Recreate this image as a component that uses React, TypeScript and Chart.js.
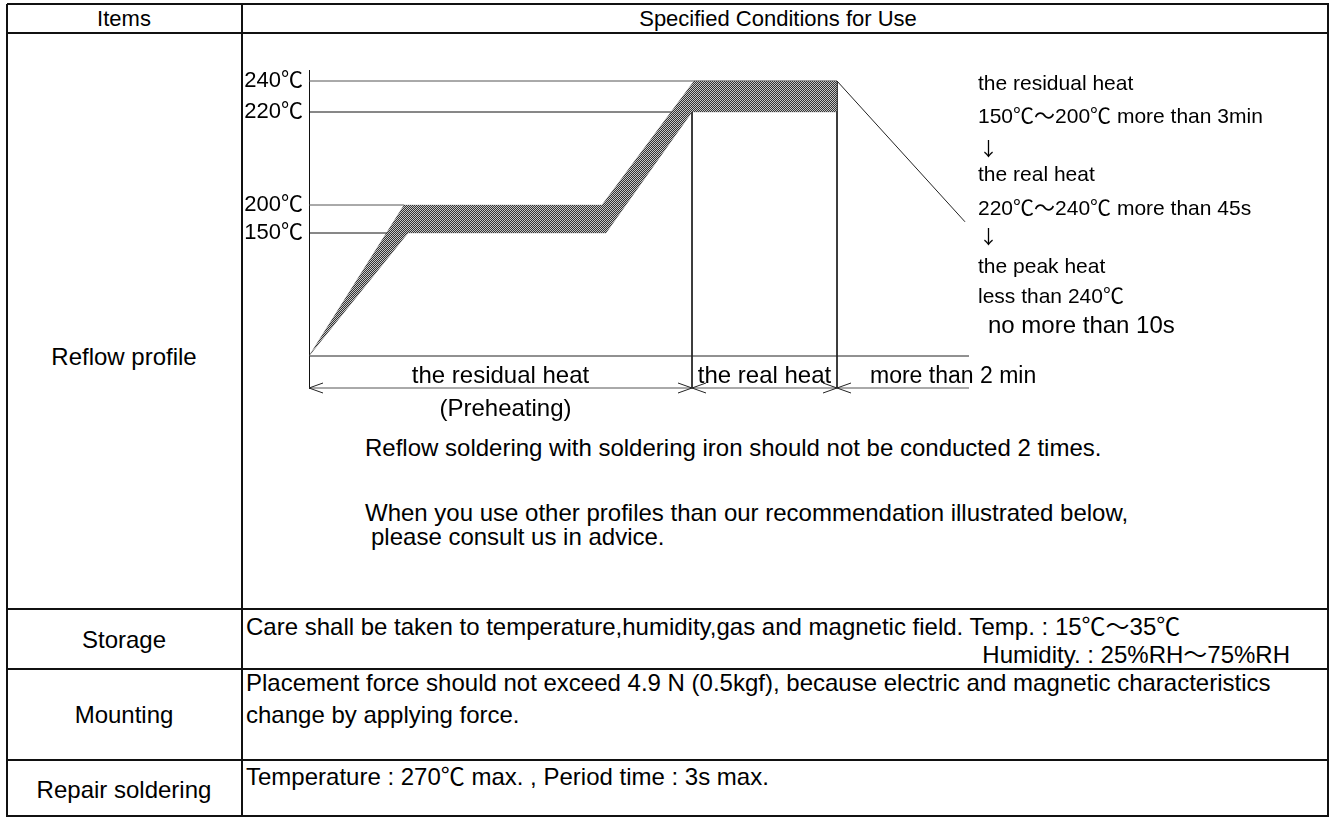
import React, { useEffect, useRef } from 'react';
import { Chart, registerables, LinearScale } from 'chart.js';

const FONT = "'Liberation Sans', Arial, 'Noto Sans CJK JP', sans-serif";
const CJK = "'Noto Sans CJK JP', 'Liberation Sans', sans-serif";

// ---- temperature axis (schematic, not to scale) ----
const tickTemps = [150, 200, 220, 240];
const levelTemps = [0, 25, 150, 200, 220, 240, 260];
const levelHeights = [0, 32, 155, 183, 276, 307, 318]; // drawn height of each level

// ---- profile band (time in schematic units) ----
const upperTime = [0, 9.5, 29.3, 38.5, 52.8];
const upperTemp = [25, 200, 200, 240, 240];
const lowerTime = [0, 9.9, 29.7, 38.3, 52.8];
const lowerTemp = [25, 150, 150, 220, 220];

// reference level lines (temperature, where the line ends)
const refTemps = [240, 220, 200, 150];
const refEnd = [52.8, 38.3, 9.5, 9.9];

const baseTemp = 25;
const timeEnd = 66;
const coolTime = [52.8, 65.6];
const coolTemp = [240, 170];

// stages along the time axis
const stageBounds = [0, 38.3, 52.8, 66];
const stageLabels = ['the residual heat', 'the real heat', 'more than 2 min'];
const stageSub = '(Preheating)';

const sideNotes = [
  'the residual heat',
  '150℃～200℃ more than 3min',
  '↓',
  'the real heat',
  '220℃～240℃ more than 45s',
  '↓',
  'the peak heat',
  'less than 240℃',
];
const sideLast = 'no more than 10s';

function toFrac(v: number): number {
  const top = levelHeights[levelHeights.length - 1];
  for (let i = 1; i < levelTemps.length; i++) {
    if (v <= levelTemps[i] || i === levelTemps.length - 1) {
      const t0 = levelTemps[i - 1], t1 = levelTemps[i];
      const h0 = levelHeights[i - 1], h1 = levelHeights[i];
      return (h0 + ((v - t0) / (t1 - t0)) * (h1 - h0)) / top;
    }
  }
  return 1;
}
function fromFrac(f: number): number {
  const top = levelHeights[levelHeights.length - 1];
  const h = f * top;
  for (let i = 1; i < levelHeights.length; i++) {
    if (h <= levelHeights[i] || i === levelHeights.length - 1) {
      const t0 = levelTemps[i - 1], t1 = levelTemps[i];
      const h0 = levelHeights[i - 1], h1 = levelHeights[i];
      return t0 + ((h - h0) / (h1 - h0)) * (t1 - t0);
    }
  }
  return levelTemps[levelTemps.length - 1];
}

class SchematicScale extends LinearScale {
  static id = 'schematic';
  getPixelForValue(value: number) {
    return this.getPixelForDecimal(toFrac(+value));
  }
  getValueForPixel(pixel: number) {
    return fromFrac(this.getDecimalForPixel(pixel));
  }
}

Chart.register(...registerables, SchematicScale);

const pts = (xs: number[], ys: number[]) => xs.map((x, i) => ({ x, y: ys[i] }));

const dimPlugin = {
  id: 'dims',
  afterDatasetsDraw(chart: any) {
    const { ctx } = chart;
    const x = chart.scales.x;
    const y = chart.scales.y;
    const yd = y.getPixelForValue(0);
    ctx.save();
    ctx.strokeStyle = '#222';
    ctx.lineWidth = 1;
    const chev = (px: number, dir: number) => {
      ctx.beginPath();
      ctx.moveTo(px - dir * 14, yd - 5);
      ctx.lineTo(px, yd);
      ctx.lineTo(px - dir * 14, yd + 5);
      ctx.stroke();
    };
    chev(x.getPixelForValue(stageBounds[0]), -1);
    for (let i = 1; i < stageBounds.length - 1; i++) {
      const px = x.getPixelForValue(stageBounds[i]);
      chev(px, 1);
      chev(px, -1);
    }
    ctx.fillStyle = '#000';
    ctx.font = `24px ${FONT}`;
    ctx.textBaseline = 'alphabetic';
    ctx.textAlign = 'center';
    for (let i = 0; i < 2; i++) {
      const cx = (x.getPixelForValue(stageBounds[i]) + x.getPixelForValue(stageBounds[i + 1])) / 2;
      ctx.fillText(stageLabels[i], cx, yd - 5);
    }
    ctx.textAlign = 'left';
    ctx.font = `23px ${FONT}`;
    ctx.fillText(stageLabels[2], x.getPixelForValue(stageBounds[2]) + 33, yd - 5);
    ctx.font = `24px ${FONT}`;
    ctx.textAlign = 'center';
    const c0 = (x.getPixelForValue(stageBounds[0]) + x.getPixelForValue(stageBounds[1])) / 2;
    ctx.fillText(stageSub, c0 + 5, yd + 28);
    ctx.restore();
  },
};

function ReflowChart() {
  const ref = useRef<HTMLCanvasElement>(null);
  useEffect(() => {
    const canvas = ref.current!;
    const pc = document.createElement('canvas');
    pc.width = 2;
    pc.height = 2;
    const p = pc.getContext('2d')!;
    p.fillStyle = '#c6c6c6';
    p.fillRect(0, 0, 2, 2);
    p.fillStyle = '#333333';
    p.fillRect(0, 0, 1, 1);
    p.fillRect(1, 1, 1, 1);
    const pattern = canvas.getContext('2d')!.createPattern(pc, 'repeat');

    const line = (data: any[], color = '#222', order = 2) => ({
      data,
      borderColor: color,
      borderWidth: 1,
      pointRadius: 0,
      fill: false,
      clip: false,
      order,
    });

    const band = [
      ...pts(upperTime, upperTemp),
      ...pts(lowerTime, lowerTemp).reverse(),
    ];

    const datasets: any[] = [
      {
        data: band,
        backgroundColor: pattern,
        borderColor: 'rgba(70,70,70,0.5)',
        borderWidth: 0.5,
        pointRadius: 0,
        fill: 'shape',
        order: 0,
      },
      ...refTemps.map((t, i) => line(pts([0, refEnd[i]], [t, t]), i % 2 === 0 ? '#555' : '#111')),
      line(pts([0, timeEnd], [baseTemp, baseTemp])),
      line(pts(coolTime, coolTemp)),
      line(pts([stageBounds[1], stageBounds[1]], [lowerTemp[3], 0])),
      line(pts([stageBounds[2], stageBounds[2]], [upperTemp[4], 0])),
      line(pts([0, timeEnd], [0, 0]), '#555'),
    ];

    const chart = new Chart(canvas, {
      type: 'line',
      data: { datasets },
      options: {
        animation: false,
        responsive: false,
        events: [],
        layout: { padding: { left: 0, top: 36, right: 359, bottom: 46 } },
        plugins: {
          legend: { display: false },
          tooltip: { enabled: false },
        },
        elements: { line: { tension: 0 } },
        scales: {
          x: { type: 'linear', min: 0, max: timeEnd, display: false },
          y: {
            type: 'schematic' as any,
            min: 0,
            max: 260,
            afterFit: (s: any) => {
              s.width = 66;
            },
            afterBuildTicks: (s: any) => {
              s.ticks = tickTemps.map((v) => ({ value: v }));
            },
            ticks: {
              callback: (v: any) => `${v}℃`,
              color: '#000',
              font: { size: 22, family: FONT },
              padding: 6,
              autoSkip: false,
            },
            grid: { display: false, drawTicks: false },
            border: { display: true, color: '#111', width: 1 },
          },
        },
      } as any,
      plugins: [dimPlugin],
    });
    return () => chart.destroy();
  }, []);
  return (
    <canvas
      ref={ref}
      width={1085}
      height={400}
      style={{ position: 'absolute', left: 243, top: 34, width: 1085, height: 400 }}
    />
  );
}

type TP = {
  x: number;
  y: number;
  size?: number;
  align?: 'left' | 'center' | 'right';
  family?: string;
  children: React.ReactNode;
};
function T({ x, y, size = 24, align = 'left', family = FONT, children }: TP) {
  const style: React.CSSProperties = {
    position: 'absolute',
    top: y,
    fontSize: size,
    lineHeight: 1,
    whiteSpace: 'pre',
    fontFamily: family,
    color: '#000',
  };
  if (align === 'left') {
    style.left = x;
    style.transform = 'translateY(-50%)';
  } else if (align === 'right') {
    style.right = 1336 - x;
    style.transform = 'translateY(-50%)';
  } else {
    style.left = x;
    style.transform = 'translate(-50%, -50%)';
  }
  return <div style={style}>{children}</div>;
}

const HL = ({ y }: { y: number }) => (
  <div style={{ position: 'absolute', left: 7, top: y - 1, width: 1322, height: 2, background: '#111' }} />
);
const VL = ({ x }: { x: number }) => (
  <div style={{ position: 'absolute', left: x - 1, top: 4, width: 2, height: 813, background: '#111' }} />
);

export default function App() {
  const sideY = [82, 115, 147, 173, 207, 235, 265, 295];
  return (
    <div style={{ position: 'absolute', left: 0, top: 0, width: 1336, height: 819, background: '#fff', overflow: 'hidden' }}>
      <ReflowChart />
      {[4, 33, 609, 669, 760, 816].map((y) => (
        <HL key={y} y={y} />
      ))}
      {[7, 242, 1328].map((x) => (
        <VL key={x} x={x} />
      ))}
      <T x={124} y={19} align="center" size={22}>Items</T>
      <T x={778} y={19} align="center" size={22}>Specified Conditions for Use</T>
      <T x={124} y={357} align="center">Reflow profile</T>
      <T x={124} y={640} align="center">Storage</T>
      <T x={124} y={715} align="center">Mounting</T>
      <T x={124} y={790} align="center">Repair soldering</T>

      {sideNotes.map((s, i) =>
        s === '↓' ? (
          <T key={i} x={979} y={sideY[i]} size={19} family={CJK}>{s}</T>
        ) : (
          <T key={i} x={978} y={sideY[i]} size={21}>{s}</T>
        )
      )}
      <T x={988} y={325} size={24}>{sideLast}</T>

      <T x={365} y={448}>Reflow soldering with soldering iron should not be conducted 2 times.</T>
      <T x={365} y={513}>When you use other profiles than our recommendation illustrated below,</T>
      <T x={371} y={537}>please consult us in advice.</T>

      <T x={246} y={627}>Care shall be taken to temperature,humidity,gas and magnetic field. Temp. : 15℃～35℃</T>
      <T x={1290} y={655} align="right">Humidity. : 25%RH～75%RH</T>
      <T x={246} y={683}>Placement force should not exceed 4.9 N (0.5kgf), because electric and magnetic characteristics</T>
      <T x={246} y={715}>change by applying force.</T>
      <T x={246} y={777}>Temperature : 270℃ max. , Period time : 3s max.</T>
    </div>
  );
}
